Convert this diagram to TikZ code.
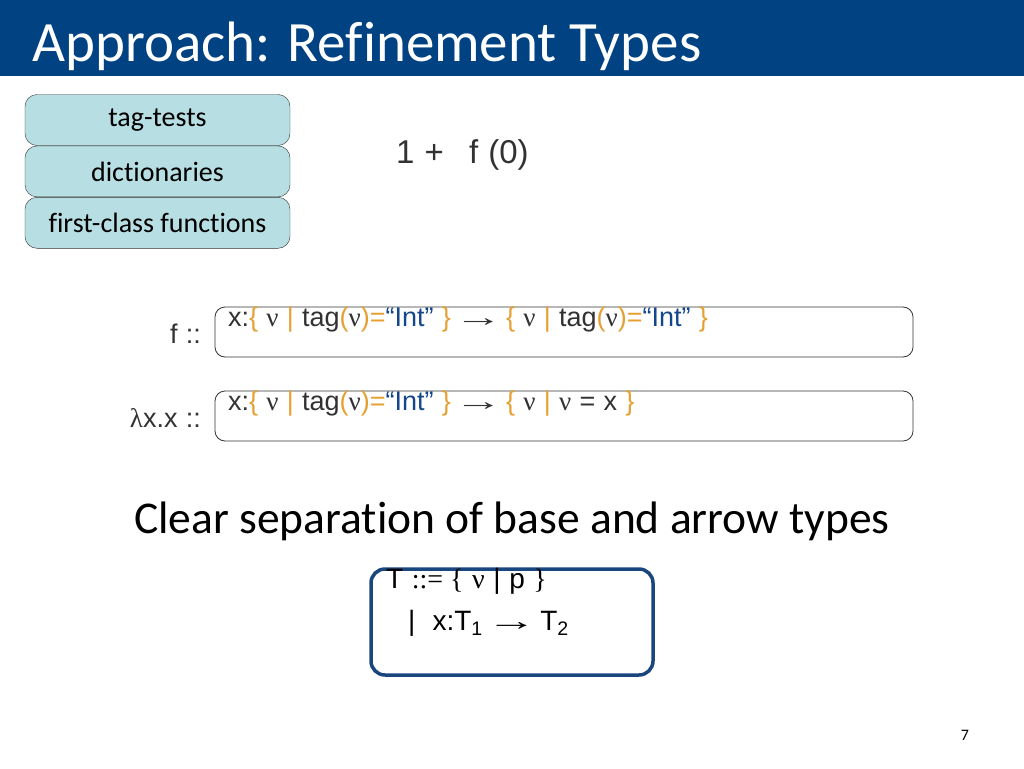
\documentclass[tikz,border=0pt]{standalone}
\usepackage{fontspec}
\setmainfont{Carlito}[Ligatures=NoCommon]
\newfontfamily\arialfont{Liberation Sans}[WordSpace=1.1]
\newfontfamily\seriffont{Liberation Serif}
\usetikzlibrary{positioning}
\definecolor{titleblue}{RGB}{0,66,130}
\definecolor{boxteal}{RGB}{183,222,226}
\definecolor{refgold}{RGB}{230,160,50}
\definecolor{intblue}{RGB}{20,70,140}
\definecolor{ink}{RGB}{50,50,50}
\definecolor{gramblue}{RGB}{25,70,125}
\newcommand{\vnu}{{\seriffont ν}}
\newcommand{\gd}[1]{\textcolor{refgold}{#1}}
\newcommand{\arr}{\hspace{-5pt}\scalebox{1.8}[1]{→}\hspace{-5pt}}
\tikzset{
  featbox/.style={draw=ink, fill=boxteal, rounded corners=12pt, minimum width=265pt,
    minimum height=51pt, inner sep=0pt, font=\fontsize{28}{32}\selectfont},
  typebox/.style={draw=ink, thick, rounded corners=10pt, minimum width=698pt,
    minimum height=50pt, inner sep=0pt},
  formula/.style={font=\arialfont\fontsize{27}{32}\selectfont, text=ink, inner sep=0pt},
  signature/.style={formula, anchor=north west}
}
\begin{document}
\begin{tikzpicture}[x=1pt, y=-1pt]
    \useasboundingbox (0, 0) rectangle (1024, 768);
    % title
    \fill[titleblue] (0, 0) rectangle (1024, 76);
    \node[anchor=base west, text=white, inner sep=0pt, font=\fontsize{57}{64}\selectfont]
      (title) at (32, 61) {Approach: Refinement Types};
    % feature boxes
    \node[featbox] (tags) at (157.5, 120) {tag-tests};
    \node[featbox, below=0pt of tags] (dicts) {dictionaries};
    \node[featbox, below=0pt of dicts] (funcs) {first-class functions};
    % expression
    \node[formula, anchor=west, font=\arialfont\fontsize{33}{38}\selectfont] (expr)
      at (396, 155) {1 +~~\hspace{5pt}f (0)};
    % type of f
    \node[typebox] (ftype) at (564, 332) {};
    \node[signature] (fsig) at (228, 307)
      {x:\gd{\{} \vnu{} \gd{|} tag\gd{(}\vnu\gd{)=}\textcolor{intblue}{“Int”} \gd{\}} \arr{}
       \gd{\{} \vnu{} \gd{|} tag\gd{(}\vnu\gd{)=}\textcolor{intblue}{“Int”} \gd{\}}};
    \node[formula, anchor=east] (fname) at (201, 334) {f ::};
    % type of identity
    \node[typebox] (idtype) at (564, 416) {};
    \node[signature] (idsig) at (228, 391)
      {x:\gd{\{} \vnu{} \gd{|} tag\gd{(}\vnu\gd{)=}\textcolor{intblue}{“Int”} \gd{\}} \arr{}
       \gd{\{} \vnu{} \gd{|} \vnu{} = x \gd{\}}};
    \node[formula, anchor=east] (idname) at (201, 418) {{\seriffont λ}x.x ::};
    % caption
    \node[inner sep=0pt, font=\fontsize{45.5}{52}\selectfont] (caption) at (512, 521)
      {Clear separation of base and arrow types};
    % grammar
    \draw[gramblue, line width=3.5pt, rounded corners=14pt] (371, 569) rectangle (653, 675);
    \node[formula, text=black, anchor=north west, font=\arialfont\fontsize{28}{32}\selectfont]
      (rule1) at (386, 568) {T {\seriffont ::= \{} \vnu{} | p {\seriffont \}}};
    \node[formula, text=black, anchor=north west, font=\arialfont\fontsize{28}{32}\selectfont]
      (rule2) at (408, 610) {|~~x:T\textsubscript{1} \arr{} T\textsubscript{2}};
    % page number
    \node[font=\fontsize{16}{18}\selectfont, inner sep=0pt] (page) at (965, 735) {7};
\end{tikzpicture}
\end{document}
